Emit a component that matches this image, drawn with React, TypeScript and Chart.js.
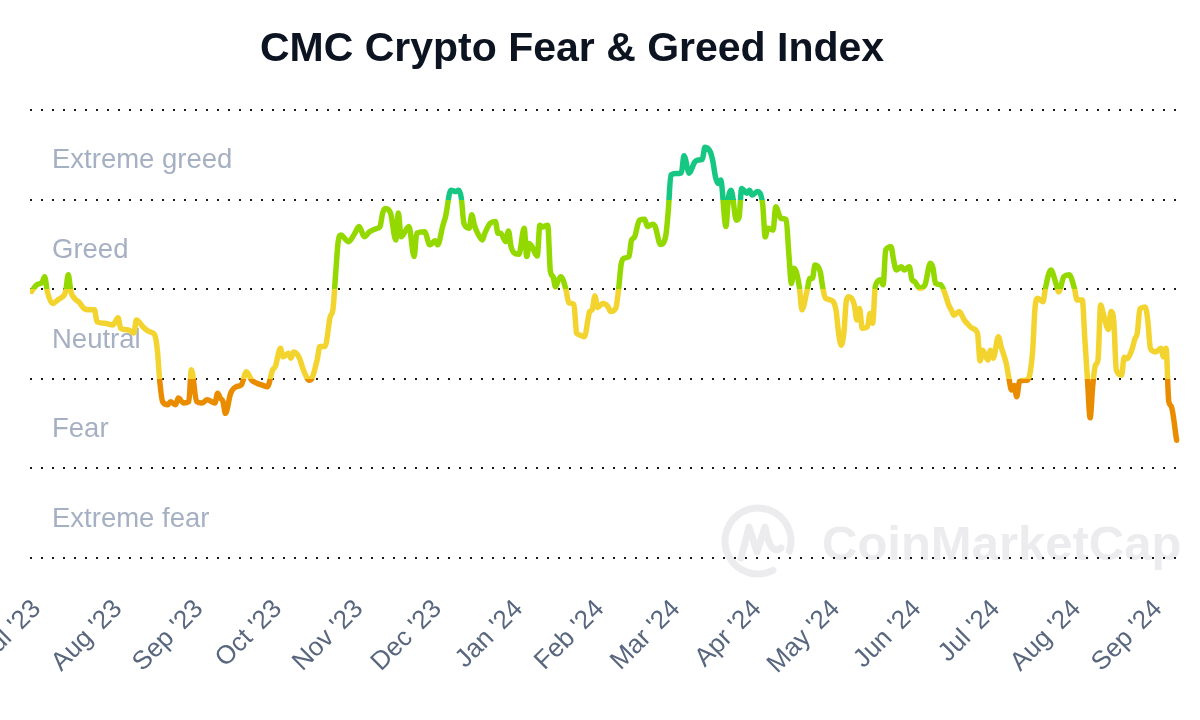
import React, { useEffect, useRef } from 'react';
import { Chart, registerables } from 'chart.js';

Chart.register(...registerables);

// Days counted from 1 Jul 2023 (day 0)
const dayIndex = [
  -2, 0, 2, 3, 4, 6, 8, 9, 11, 12, 13, 15, 16, 18, 20, 22, 23, 26, 29, 31,
  32, 35, 37, 38, 41, 43, 45, 46, 47, 48, 50, 51, 53, 54, 56, 58, 59, 61, 63, 65,
  68, 69, 70, 71, 72, 74, 76, 78, 80, 82, 84, 86, 88, 90, 91, 93, 94, 96, 97, 98,
  100, 102, 104, 105, 107, 108, 110, 112, 113, 114, 115, 116, 119, 121, 123, 125, 127, 130, 131, 132,
  133, 135, 137, 138, 139, 142, 144, 145, 148, 150, 152, 153, 155, 156, 158, 160, 161, 162, 163, 165,
  166, 167, 168, 170, 171, 173, 175, 176, 177, 179, 180, 181, 182, 184, 186, 187, 188, 189, 191, 192,
  193, 195, 196, 197, 198, 199, 200, 202, 203, 205, 206, 207, 209, 211, 212, 213, 214, 216, 218, 219,
  221, 222, 223, 224, 226, 227, 228, 230, 232, 233, 235, 236, 238, 240, 241, 242, 244, 246, 247, 249,
  251, 252, 254, 255, 257, 258, 259, 260, 261, 263, 264, 265, 267, 268, 269, 271, 272, 273, 275, 277,
  278, 279, 281, 282, 284, 286, 287, 288, 289, 291, 292, 294, 295, 296, 297, 299, 300, 301, 303, 305,
  306, 307, 308, 309, 310, 312, 313, 314, 315, 317, 318, 319, 320, 322, 323, 324, 326, 327, 328, 330,
  331, 333, 334, 335, 337, 339, 341, 342, 343, 345, 347, 348, 349, 350, 352, 354, 355, 357, 359, 360,
  361, 363, 364, 365, 367, 368, 370, 371, 372, 373, 374, 375, 377, 378, 380, 381, 382, 384, 385, 387,
  389, 390, 392, 394, 396, 397, 399, 400, 401, 402, 403, 404, 405, 406, 407, 409, 410, 411, 412, 414,
  415, 416, 418, 419, 420, 421, 423, 424, 425, 427, 429, 430, 431, 432, 433, 435,
];

const fearGreed = [
  59.5, 61, 61.5, 62.8, 59.5, 56.8, 57.6, 58, 59.5, 63.2, 59.5, 57.6, 57.2, 55.7, 55.4, 55.4, 52.7, 52.4, 52, 53.6,
  51.3, 50.9, 50.2, 53.1, 51.3, 50.5, 49.8, 46.4, 39, 34.9, 34.2, 34.9, 34.2, 35.7, 34.6, 34.9, 42, 34.9, 34.6, 35.3,
  34.6, 36.8, 35.7, 35, 32.3, 36.8, 38.2, 38.6, 41.6, 39.7, 39, 38.6, 38.2, 42, 42.7, 46.8, 44.9, 45.7, 44.6, 46,
  44.9, 41.6, 39.7, 40.1, 44.2, 47.2, 47.2, 53.9, 55.4, 63, 70.5, 72.1, 70.6, 72.1, 74, 71.7, 72.8, 73.6, 74, 77,
  78, 77, 71, 77, 71.7, 74, 67.3, 72.5, 72.8, 69.9, 70.8, 69.9, 74.3, 76.2, 82.1, 81.8, 82.1, 80.4, 74.7, 73.6,
  76.6, 74.3, 72.8, 71, 72.5, 74.7, 75.1, 72.5, 72.5, 70.6, 73, 69.5, 68.2, 67.8, 73.6, 67.3, 70.2, 69.5, 67.4, 74.3,
  73.9, 74.3, 64, 62.8, 60.5, 62, 62.8, 59.8, 57, 56.6, 50.2, 49.8, 49.4, 55, 55.5, 58.5, 55.9, 56.8, 56.1, 55,
  55.8, 59.8, 65.5, 66.9, 67.3, 71, 71.5, 75.4, 75.6, 74, 74.5, 74, 70, 71.8, 77.5, 85.5, 85.8, 86, 89.8, 85.9,
  88.3, 88.8, 89, 91.7, 90.7, 88.6, 85.1, 83.6, 84.4, 74, 80.7, 82.1, 75.4, 76, 82.5, 81.4, 82.1, 81, 81.8, 79.1,
  71.7, 73.6, 73.2, 78.4, 75.8, 75.5, 68, 61.3, 64.7, 60.6, 55.4, 59.8, 62.4, 62.4, 65.4, 63.9, 60.2, 58, 57.6, 55.4,
  50.2, 47.5, 50.2, 57.6, 58.3, 56.5, 53.1, 55.7, 51.3, 51.6, 54.6, 52.4, 60.6, 62.1, 61, 68.8, 69.5, 66.5, 64.3, 65,
  64.3, 65, 62.1, 61.7, 60.2, 61, 65.8, 64.8, 61.3, 61, 58.3, 56.5, 55.4, 54.2, 55, 53.1, 52.4, 51.3, 50.2, 44,
  46.4, 44.2, 46.4, 44.6, 49.4, 47.2, 43.4, 40.1, 37.5, 38.5, 36, 39.4, 39.7, 39.7, 45.7, 56, 58, 57.2, 60.4, 64.3,
  61.2, 59.4, 62.8, 63.2, 60.2, 57.6, 57.6, 48.7, 39.7, 31.3, 38.5, 43, 44.2, 56.5, 54.6, 51, 55, 53, 42, 40.8,
  44.8, 44.5, 46.6, 48.8, 50.2, 55.6, 56, 53.1, 46.8, 46, 46.8, 44.9, 46.8, 35, 33.8, 26.3,
];

const monthTickDays = [0, 31, 62, 92, 123, 153, 184, 215, 244, 275, 305, 336, 366, 397, 428];
const monthTickLabels = [
  "Jul '23", "Aug '23", "Sep '23", "Oct '23", "Nov '23", "Dec '23", "Jan '24", "Feb '24",
  "Mar '24", "Apr '24", "May '24", "Jun '24", "Jul '24", "Aug '24", "Sep '24",
];

const zoneLabelValues = [10, 30, 50, 70, 90];
const zoneLabels = ['Extreme fear', 'Fear', 'Neutral', 'Greed', 'Extreme greed'];
const zoneColors = ['#ea3943', '#ea8c00', '#f3d42f', '#93d900', '#16c784'];
const yTickValues = [0, 10, 20, 30, 40, 50, 60, 70, 80, 90, 100];

const FONT = '"Liberation Sans", Arial, Helvetica, sans-serif';

function zoneGradient(chart: any) {
  const { ctx, chartArea, scales } = chart;
  if (!chartArea || !scales.y) return zoneColors[2];
  const y0 = scales.y.getPixelForValue(0);
  const y1 = scales.y.getPixelForValue(100);
  const g = ctx.createLinearGradient(0, y0, 0, y1);
  zoneColors.forEach((c, i) => {
    g.addColorStop(i / zoneColors.length, c);
    g.addColorStop((i + 1) / zoneColors.length, c);
  });
  return g;
}

const watermarkPlugin = {
  id: 'cmcWatermark',
  beforeDraw(chart: any) {
    const ctx = chart.ctx;
    ctx.save();
    const col = '#ececef';
    ctx.strokeStyle = col;
    ctx.lineWidth = 7;
    ctx.lineCap = 'round';
    ctx.lineJoin = 'round';
    ctx.beginPath();
    ctx.arc(758, 541, 33, Math.PI * 0.35, Math.PI * 2.1, false);
    ctx.stroke();
    ctx.beginPath();
    ctx.moveTo(741, 558);
    ctx.lineTo(749, 527);
    ctx.lineTo(757, 552);
    ctx.lineTo(765, 527);
    ctx.quadraticCurveTo(770, 556, 781, 548);
    ctx.stroke();
    ctx.fillStyle = col;
    ctx.font = `bold 49px ${FONT}`;
    ctx.textBaseline = 'alphabetic';
    ctx.textAlign = 'left';
    ctx.fillText('CoinMarketCap', 822, 560);
    ctx.restore();
  },
};

export default function App() {
  const canvasRef = useRef<HTMLCanvasElement>(null);

  useEffect(() => {
    const canvas = canvasRef.current;
    if (!canvas) return;
    const chart = new Chart(canvas, {
      type: 'line',
      data: {
        datasets: [
          {
            label: 'CMC Crypto Fear & Greed Index',
            data: dayIndex.map((d, i) => ({ x: d, y: fearGreed[i] })),
            borderColor: (c: any) => zoneGradient(c.chart),
            borderWidth: 5.5,
            pointRadius: 0,
            pointHoverRadius: 0,
            cubicInterpolationMode: 'monotone',
            borderJoinStyle: 'round',
            borderCapStyle: 'round',
            fill: false,
          } as any,
        ],
      },
      options: {
        responsive: false,
        animation: false,
        layout: { padding: { left: 30, right: 20, top: 110, bottom: 0 } },
        plugins: {
          legend: { display: false },
          title: { display: false },
          tooltip: { enabled: false },
        },
        scales: {
          x: {
            type: 'linear',
            min: -2.6,
            max: 436.3,
            afterBuildTicks: (scale: any) => {
              scale.ticks = monthTickDays.map((v) => ({ value: v }));
            },
            afterFit: (scale: any) => {
              scale.paddingLeft = 0;
              scale.paddingRight = 0;
              scale.height = 162;
            },
            grid: { display: false, drawTicks: false },
            border: { display: false },
            ticks: {
              autoSkip: false,
              minRotation: 45,
              maxRotation: 45,
              padding: 36,
              color: '#58667e',
              font: { family: FONT, size: 26 },
              callback: (value: any) => {
                const i = monthTickDays.indexOf(Number(value));
                return i >= 0 ? monthTickLabels[i] : '';
              },
            },
          },
          y: {
            type: 'linear',
            min: 0,
            max: 100,
            afterBuildTicks: (scale: any) => {
              scale.ticks = yTickValues.map((v) => ({ value: v }));
            },
            afterFit: (scale: any) => {
              scale.width = 0;
              scale.paddingTop = 0;
              scale.paddingBottom = 0;
            },
            grid: {
              drawTicks: false,
              lineWidth: 2,
              color: (c: any) => (c.tick && c.tick.value % 20 === 0 ? '#1b1b1b' : 'rgba(0,0,0,0)'),
            },
            border: { display: false, dash: [2, 9] },
            ticks: {
              mirror: true,
              padding: 22,
              labelOffset: 6,
              color: '#a6b0c3',
              font: { family: FONT, size: 27.5 },
              callback: (value: any) => {
                const i = zoneLabelValues.indexOf(Number(value));
                return i >= 0 ? zoneLabels[i] : '';
              },
            },
          },
        },
      },
      plugins: [watermarkPlugin],
    });
    return () => chart.destroy();
  }, []);

  return (
    <div
      style={{
        position: 'absolute',
        left: 0,
        top: 0,
        width: 1200,
        height: 720,
        background: '#ffffff',
        overflow: 'hidden',
      }}
    >
      <canvas ref={canvasRef} width={1200} height={720} style={{ position: 'absolute', left: 0, top: 0 }} />
      <div
        style={{
          position: 'absolute',
          left: 0,
          top: 27,
          width: 1144,
          textAlign: 'center',
          fontFamily: FONT,
          fontWeight: 'bold',
          fontSize: 41,
          lineHeight: '41px',
          color: '#0d1421',
        }}
      >
        CMC Crypto Fear &amp; Greed Index
      </div>
    </div>
  );
}
